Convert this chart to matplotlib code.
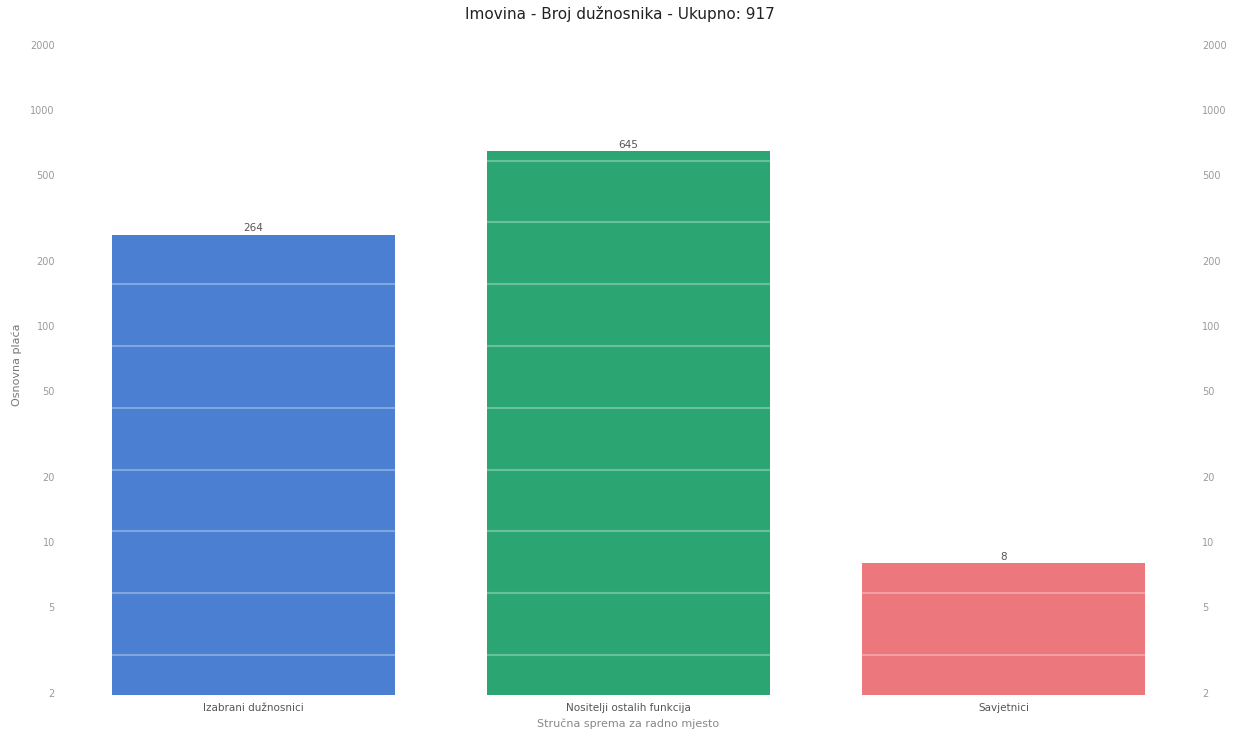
import matplotlib
matplotlib.use('Agg')
import matplotlib.pyplot as plt
from matplotlib.ticker import FixedLocator, FixedFormatter, NullLocator

categories = ['Izabrani dužnosnici', 'Nositelji ostalih funkcija', 'Savjetnici']
counts = [264, 645, 8]
colors = ['#4a7fd2', '#2ba673', '#ec777c']
y_ticks = [2, 5, 10, 20, 50, 100, 200, 500, 1000, 2000]
y_labels = ['2', '5', '10', '20', '50', '100', '200', '500', '1000', '2000']

plt.rcParams['font.family'] = ['DejaVu Sans']

fig = plt.figure(figsize=(12.39, 7.41), dpi=100)
ax = fig.add_axes([66 / 1239, 1 - 695 / 741, 1125 / 1239, 660 / 741])

x = list(range(len(categories)))
bars = ax.bar(x, counts, width=0.755, color=colors, zorder=2)
ax.set_yscale('log')
ax.set_ylim(1.96, 2220)
ax.set_xlim(-0.5, 2.5)

# faint evenly spaced lines drawn over the bars (white, so only seen on bars)
ax2 = ax.twinx()
ax2.set_ylim(-0.645, 10.03)
ax2.set_yticks(range(11))
ax2.tick_params(axis='y', length=0, labelright=False, labelleft=False)
ax2.grid(axis='y', color='white', alpha=0.3, linewidth=1.5)
for s in ax2.spines.values():
    s.set_visible(False)

ax.yaxis.set_major_locator(FixedLocator(y_ticks))
ax.yaxis.set_major_formatter(FixedFormatter(y_labels))
ax.yaxis.set_minor_locator(NullLocator())
ax.tick_params(axis='y', length=0, labelsize=7, labelcolor='#9a9a9a',
               labelleft=True, labelright=True, pad=8)
ax.set_xticks(x)
ax.set_xticklabels(categories)
ax.tick_params(axis='x', length=0, labelsize=7.5, labelcolor='#555555', pad=6)

for s in ax.spines.values():
    s.set_visible(False)

for b, v in zip(bars, counts):
    ax.annotate(str(v), (b.get_x() + b.get_width() / 2, v), xytext=(0, 1),
                textcoords='offset points', ha='center', va='bottom',
                fontsize=7.5, color='#555555')

ax.set_ylabel('Osnovna plaća', fontsize=8, color='#777777', labelpad=6)
ax.set_xlabel('Stručna sprema za radno mjesto', fontsize=8, color='#888888', labelpad=4)
fig.suptitle('Imovina - Broj dužnosnika - Ukupno: 917', y=0.992, fontsize=11, color='#222222')

fig.savefig('out.png', dpi=100)
